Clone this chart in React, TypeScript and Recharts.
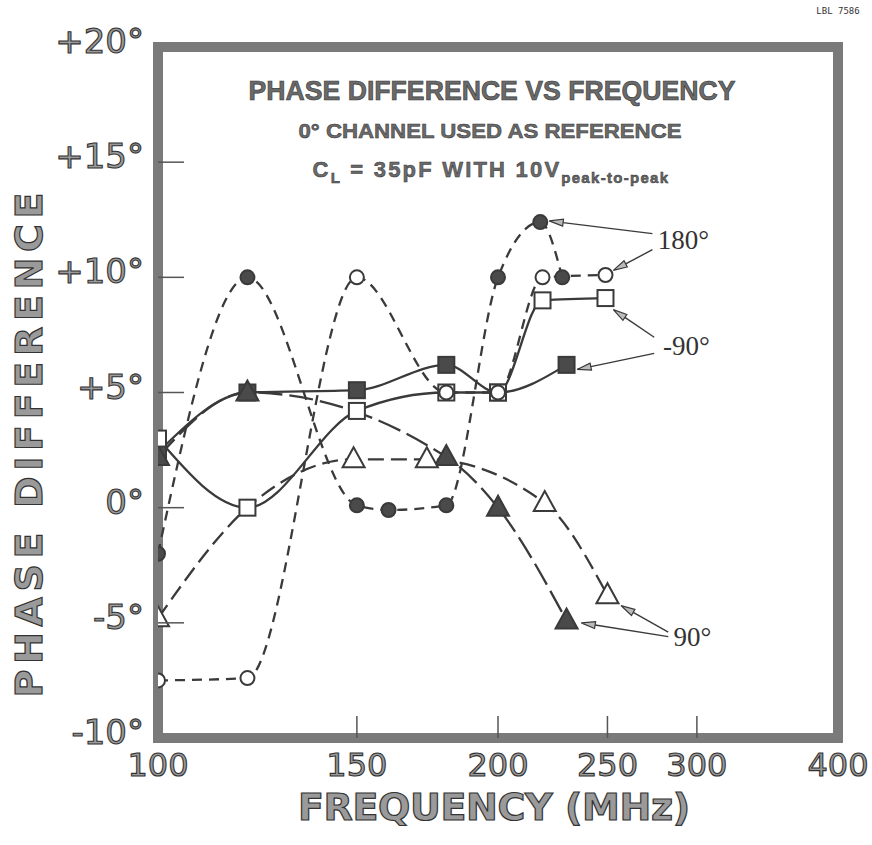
import React from 'react';
import { ComposedChart, Line, XAxis, YAxis, ReferenceArea, ReferenceLine, ReferenceDot } from 'recharts';

const xTicks = [100, 150, 200, 250, 300, 400];
const yTicks = [-10, -5, 0, 5, 10, 15, 20];
const yTickLabels = ['-10°', '-5°', '0°', '+5°', '+10°', '+15°', '+20°'];

// 180° channel, filled and open circles
const fc180Freq = [100, 120, 150, 160, 180, 200, 218, 228];
const fc180Deg = [-2, 10, 0.1, -0.1, 0.1, 10, 12.4, 10];
const oc180Freq = [100, 120, 150, 180, 200, 219, 249];
const oc180Deg = [-7.5, -7.4, 10, 5, 5, 10, 10.1];

// -90° channel, filled and open squares
const fsq90Freq = [100, 120, 150, 180, 200, 230];
const fsq90Deg = [2.4, 5, 5.1, 6.2, 5, 6.2];
const osq90Freq = [100, 120, 150, 180, 200, 219, 249];
const osq90Deg = [3, 0, 4.2, 5, 5, 9, 9.1];

// 90° channel, filled and open triangles
const ftr90Freq = [100, 120, 180, 200, 230];
const ftr90Deg = [2.2, 5, 2.2, 0, -4.9];
const otr90Freq = [100, 120, 149, 173, 220, 250];
const otr90Deg = [-4.8, 0, 2.1, 2.1, 0.2, -3.8];
const otr90NoMarker = [120];

const toData = (freq: number[], deg: number[]) => freq.map((f, i) => ({ f, v: deg[i] }));

// callout arrows, [from, to] in (MHz, degrees)
const arrows = [
  [[274, 11.9], [222, 12.45]],
  [[274, 11.2], [253, 10.3]],
  [[275, 7.4], [253, 8.6]],
  [[275, 6.7], [235, 6.0]],
  [[283, -5.4], [257, -4.25]],
  [[283, -5.6], [237, -5.0]],
];
const callouts = [
  { f: 277, v: 11.6, text: '180°' },
  { f: 280, v: 7.0, text: '-90°' },
  { f: 286, v: -5.6, text: '90°' },
];

const INK = '#3a3a3a';

const makeDot = (kind: string, skip: number[] = []) => (p: any) => {
  const { cx, cy, payload, index } = p;
  const key = `${kind}-${index}`;
  if (cx == null || cy == null || skip.includes(payload.f)) return <g key={key} />;
  const filled = kind.startsWith('f');
  const fill = filled ? '#4a4a4a' : '#fff';
  if (kind.endsWith('c')) {
    return <circle key={key} cx={cx} cy={cy} r={7} fill={fill} stroke={INK} strokeWidth={2} />;
  }
  if (kind.endsWith('s')) {
    return <rect key={key} x={cx - 8} y={cy - 8} width={16} height={16} fill={fill} stroke={INK} strokeWidth={2} />;
  }
  return (
    <polygon
      key={key}
      points={`${cx},${cy - 12} ${cx - 11},${cy + 8} ${cx + 11},${cy + 8}`}
      fill={fill}
      stroke={INK}
      strokeWidth={2}
    />
  );
};

const YTick = ({ x, y, payload }: any) => {
  const i = yTicks.indexOf(payload.value);
  const inner = payload.value > -10 && payload.value < 20;
  return (
    <g>
      {inner && <line x1={x} y1={y} x2={x + 26} y2={y} stroke="#555" strokeWidth={1.5} />}
      <text
        x={x - 14}
        y={y + 6}
        textAnchor="end"
        fontFamily="'DejaVu Sans'"
        fontSize={34}
        fill="#9a9a9a"
        stroke="#333"
        strokeWidth={1.1}
      >
        {yTickLabels[i]}
      </text>
    </g>
  );
};

const XTick = ({ x, y, payload }: any) => {
  const inner = payload.value > 100 && payload.value < 400;
  return (
    <g>
      {inner && <line x1={x} y1={y} x2={x} y2={y - 22} stroke="#555" strokeWidth={1.5} />}
      <text
        x={x}
        y={y + 38}
        textAnchor="middle"
        fontFamily="'DejaVu Sans'"
        fontSize={32}
        fill="#9a9a9a"
        stroke="#333"
        strokeWidth={1.1}
      >
        {payload.value}
      </text>
    </g>
  );
};

const Arrow = (p: any) => {
  const { x1, y1, x2, y2 } = p;
  const a = Math.atan2(y2 - y1, x2 - x1);
  const len = 14;
  const w = 3.5;
  const bx = x2 - len * Math.cos(a);
  const by = y2 - len * Math.sin(a);
  const nx = -Math.sin(a) * w;
  const ny = Math.cos(a) * w;
  return (
    <g>
      <line x1={x1} y1={y1} x2={bx} y2={by} stroke={INK} strokeWidth={1.4} />
      <polygon points={`${x2},${y2} ${bx + nx},${by + ny} ${bx - nx},${by - ny}`} fill="#bbb" stroke={INK} strokeWidth={1.2} />
    </g>
  );
};

const calloutShape = (text: string) => (p: any) => (
  <text
    x={p.cx}
    y={p.cy + 9}
    fontFamily="'Liberation Serif', 'DejaVu Serif', serif"
    fontSize={27}
    fill="#333"
  >
    {text}
  </text>
);

const series = [
  { id: 'fs', freq: fsq90Freq, deg: fsq90Deg, dash: undefined, skip: [] as number[] },
  { id: 'fc', freq: fc180Freq, deg: fc180Deg, dash: '10 7', skip: [] },
  { id: 'ft', freq: ftr90Freq, deg: ftr90Deg, dash: '24 7', skip: [] },
  { id: 'ot', freq: otr90Freq, deg: otr90Deg, dash: '16 7', skip: otr90NoMarker },
  { id: 'os', freq: osq90Freq, deg: osq90Deg, dash: undefined, skip: [] },
  { id: 'oc', freq: oc180Freq, deg: oc180Deg, dash: '10 7', skip: [] },
];

const titleFont = "'Liberation Sans', Arial, sans-serif";
const axisFont = "'DejaVu Sans', sans-serif";

export default function App() {
  return (
    <div style={{ position: 'absolute', left: 0, top: 0, width: 872, height: 845, background: '#fff' }}>
      <ComposedChart width={872} height={845} margin={{ top: 47, right: 34, bottom: 77, left: 98 }}>
        <XAxis
          dataKey="f"
          type="number"
          scale="log"
          domain={[100, 400]}
          ticks={xTicks}
          allowDataOverflow
          height={30}
          tickSize={0}
          tickMargin={0}
          axisLine={false}
          tickLine={false}
          tick={<XTick />}
          interval={0}
        />
        <YAxis
          type="number"
          domain={[-10, 20]}
          ticks={yTicks}
          width={60}
          tickSize={0}
          tickMargin={0}
          axisLine={false}
          tickLine={false}
          tick={<YTick />}
          interval={0}
        />
        <ReferenceArea x1={100} x2={400} y1={-10} y2={20} fill="none" fillOpacity={0} stroke="#7a7a7a" strokeWidth={10} ifOverflow="visible" />
        {series.map((s) => (
          <Line
            key={s.id}
            data={toData(s.freq, s.deg)}
            dataKey="v"
            type="monotone"
            stroke={INK}
            strokeWidth={2.3}
            strokeDasharray={s.dash}
            dot={makeDot(s.id, s.skip)}
            activeDot={false}
            isAnimationActive={false}
          />
        ))}
        {arrows.map((a, i) => (
          <ReferenceLine
            key={`ar${i}`}
            segment={[{ x: a[0][0], y: a[0][1] }, { x: a[1][0], y: a[1][1] }]}
            ifOverflow="visible"
            shape={Arrow}
          />
        ))}
        {callouts.map((c) => (
          <ReferenceDot key={c.text} x={c.f} y={c.v} r={0} ifOverflow="visible" shape={calloutShape(c.text)} />
        ))}
      </ComposedChart>
      <svg width={872} height={845} style={{ position: 'absolute', left: 0, top: 0, pointerEvents: 'none' }}>
        <text x={838} y={14} textAnchor="middle" fontFamily="'DejaVu Sans Mono', monospace" fontSize={9} fill="#333">
          LBL 7586
        </text>
        <text x={492} y={100} textAnchor="middle" fontFamily={titleFont} fontWeight="bold" fontSize={27} textLength={487} lengthAdjust="spacingAndGlyphs" fill="#6a6a6a" stroke="#333" strokeWidth={0.6}>
          PHASE DIFFERENCE VS FREQUENCY
        </text>
        <text x={490} y={138} textAnchor="middle" fontFamily={titleFont} fontWeight="bold" fontSize={21} textLength={383} lengthAdjust="spacingAndGlyphs" fill="#6a6a6a" stroke="#333" strokeWidth={0.5}>
          0° CHANNEL USED AS REFERENCE
        </text>
        <text x={491} y={177} textAnchor="middle" fontFamily={titleFont} fontWeight="bold" fontSize={22} letterSpacing={2.2} fill="#6a6a6a" stroke="#333" strokeWidth={0.5}>
          C<tspan fontSize={15} dy={6}>L</tspan>
          <tspan dy={-6}> = 35pF WITH 10V</tspan>
          <tspan fontSize={15} dy={6} letterSpacing={1.3}>peak-to-peak</tspan>
        </text>
        <text
          transform="translate(42,445) rotate(-90)"
          textAnchor="middle"
          fontFamily={axisFont}
          fontWeight="bold"
          fontSize={38}
          textLength={505}
          lengthAdjust="spacing"
          fill="#9a9a9a"
          stroke="#333"
          strokeWidth={1.2}
        >
          PHASE DIFFERENCE
        </text>
        <text
          x={494}
          y={820}
          textAnchor="middle"
          fontFamily={axisFont}
          fontWeight="bold"
          fontSize={38}
          textLength={392}
          lengthAdjust="spacing"
          fill="#9a9a9a"
          stroke="#333"
          strokeWidth={1.2}
        >
          FREQUENCY (MHz)
        </text>
      </svg>
    </div>
  );
}
